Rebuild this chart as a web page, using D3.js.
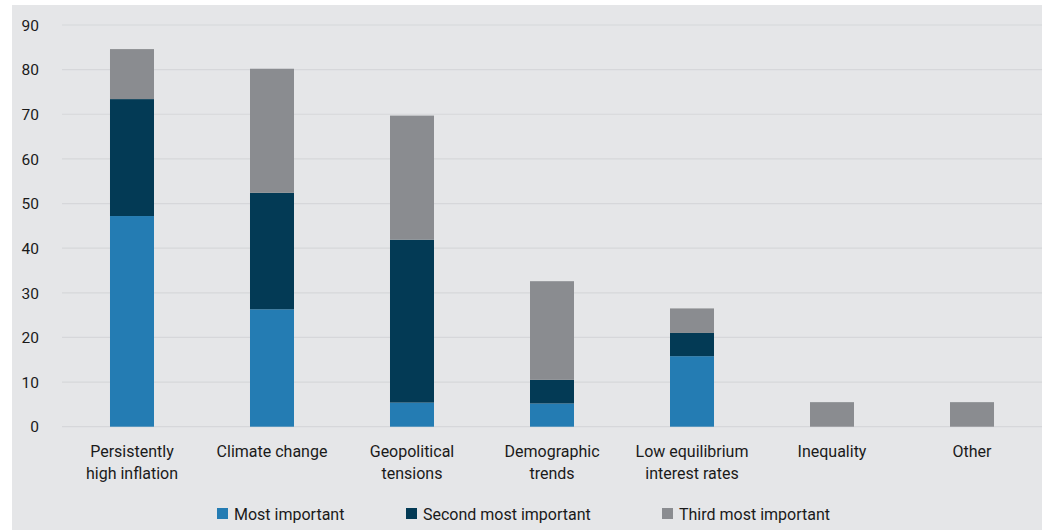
<!DOCTYPE html>
<html>
<head>
<meta charset="utf-8">
<script src="https://cdn.jsdelivr.net/npm/d3@7"></script>
<style>
  html, body { margin: 0; padding: 0; background: #ffffff; }
  svg { display: block; }
  text { font-family: Roboto, "Noto Sans", sans-serif; fill: #1a1a1a; }
</style>
</head>
<body>
<svg id="chart" width="1042" height="530"></svg>
<script>
// Survey responses (% of respondents) by rank of importance
const categories = [
  ["Persistently", "high inflation"],
  ["Climate change"],
  ["Geopolitical", "tensions"],
  ["Demographic", "trends"],
  ["Low equilibrium", "interest rates"],
  ["Inequality"],
  ["Other"]
];
const mostImportant   = [47.2, 26.3, 5.4, 5.2, 15.8, 0, 0];
const secondImportant = [26.2, 26.1, 36.5, 5.3, 5.2, 0, 0];
const thirdImportant  = [11.2, 27.8, 27.8, 22.1, 5.5, 5.5, 5.5];
const seriesNames  = ["Most important", "Second most important", "Third most important"];
const seriesColors = ["#247cb3", "#033a55", "#8a8c90"];
const yTicks = [0, 10, 20, 30, 40, 50, 60, 70, 80, 90];

const svg = d3.select("#chart");
const W = 1042, H = 530;

// panel background
svg.append("rect").attr("x", 12).attr("y", 5).attr("width", W - 12).attr("height", H - 5)
  .attr("fill", "#e5e6e8");

const rows = categories.map((c, i) => ({
  key: c.join(" "),
  lines: c,
  s0: mostImportant[i], s1: secondImportant[i], s2: thirdImportant[i]
}));

const x = d3.scaleBand().domain(rows.map(d => d.key)).range([62, 1042]).paddingInner(0.6857).paddingOuter(0.3428);
const y = d3.scaleLinear().domain([0, 90]).range([426.7, 25]);

// grid lines
svg.append("g").selectAll("line").data(yTicks).join("line")
  .attr("x1", 62).attr("x2", W)
  .attr("y1", d => y(d)).attr("y2", d => y(d))
  .attr("stroke", "#d6d7da").attr("stroke-width", 1.2);

// y axis labels
const yAxis = d3.axisLeft(y).tickValues(yTicks).tickSize(0).tickPadding(0);
const gy = svg.append("g").attr("transform", "translate(39,0)").call(yAxis);
gy.select(".domain").remove();
gy.selectAll("text").attr("font-size", 15.5).attr("font-family", "Roboto, sans-serif").attr("fill", "#1a1a1a")
  .attr("dy", "0.34em");

// stacked bars
const stack = d3.stack().keys(["s0", "s1", "s2"]);
const layers = stack(rows);
svg.append("g").selectAll("g").data(layers).join("g")
  .attr("fill", (d, i) => seriesColors[i])
  .selectAll("rect").data(d => d.filter(p => p[1] - p[0] > 0)).join("rect")
  .attr("x", d => x(d.data.key))
  .attr("width", x.bandwidth())
  .attr("y", d => y(d[1]))
  .attr("height", d => y(d[0]) - y(d[1]));

// category labels
const xl = svg.append("g");
rows.forEach(r => {
  const t = xl.append("text")
    .attr("x", x(r.key) + x.bandwidth() / 2)
    .attr("y", 456.5)
    .attr("text-anchor", "middle")
    .attr("font-size", 16);
  r.lines.forEach((ln, j) => {
    t.append("tspan").attr("x", x(r.key) + x.bandwidth() / 2).attr("dy", j === 0 ? 0 : 22).text(ln);
  });
});

// legend
const legendX = [217, 406, 662];
const lg = svg.append("g");
seriesNames.forEach((n, i) => {
  lg.append("rect").attr("x", legendX[i]).attr("y", 508).attr("width", 11).attr("height", 11)
    .attr("fill", seriesColors[i]);
  lg.append("text").attr("x", legendX[i] + 17).attr("y", 519.5).attr("font-size", 16).text(n);
});
</script>
</body>
</html>
